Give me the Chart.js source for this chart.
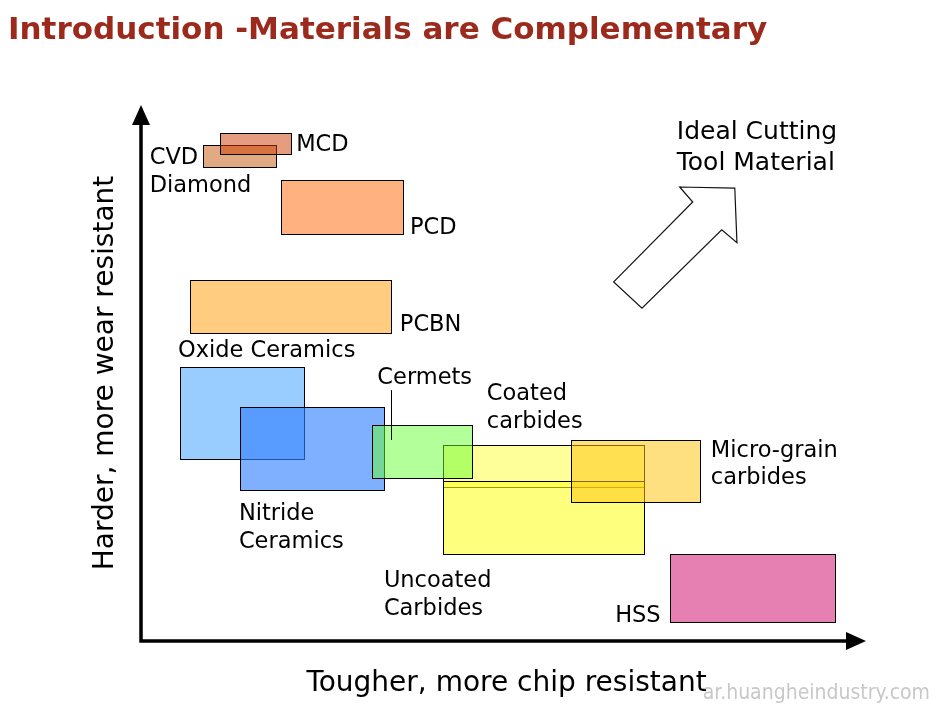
<!DOCTYPE html>
<html>
<head>
<meta charset="utf-8">
<script src="https://cdn.jsdelivr.net/npm/chart.js@4"></script>
<style>
  html, body { margin: 0; padding: 0; background: #fff; }
  #wrap { width: 939px; height: 715px; position: relative; }
</style>
</head>
<body>
<div id="wrap"><canvas id="myChart" width="939" height="715"></canvas></div>
<script>
// materials, toughness range (x) and hardness range (y), both on a 0-100 scale
var materials = ["CVD Diamond", "MCD", "PCD", "PCBN", "Oxide Ceramics", "Nitride Ceramics",
                 "Coated carbides", "Uncoated Carbides", "Cermets", "Micro-grain carbides", "HSS"];
var toughFrom = [8.6, 10.9, 19.3, 6.8, 5.4, 13.7, 41.7, 41.7, 31.9, 59.3, 73.0];
var toughTo   = [18.6, 20.7, 36.1, 34.5, 22.5, 33.5, 69.4, 69.4, 45.7, 77.1, 95.7];
var hardFrom  = [88.4, 90.9, 75.9, 57.5, 34.0, 28.2, 28.7, 16.2, 30.4, 25.9, 3.5];
var hardTo    = [92.5, 94.8, 86.0, 67.4, 51.1, 43.7, 36.6, 29.9, 40.3, 37.5, 16.2];

// fill of each box (same order as materials)
var boxColors = [
    'rgb(226,170,130)',
    'rgba(205,60,0,0.5)',
    'rgb(255,178,128)',
    'rgb(255,204,128)',
    'rgb(153,204,255)',
    'rgba(53,129,255,0.63)',
    'rgb(255,255,153)',
    'rgba(255,255,40,0.6)',
    'rgba(103,255,51,0.5)',
    'rgba(255,196,15,0.53)',
    'rgb(230,128,178)'
];

// label text lines and where they sit (left x, middle y in chart units)
var labelLines = [
    ["CVD", 1.2, 90.5], ["Diamond", 1.2, 85.3],
    ["MCD", 21.4, 92.9],
    ["PCD", 37.1, 77.4],
    ["PCBN", 35.7, 59.3],
    ["Oxide Ceramics", 5.1, 54.5],
    ["Cermets", 32.6, 49.4],
    ["Coated", 47.7, 46.5], ["carbides", 47.7, 41.2],
    ["Micro-grain", 78.6, 35.8], ["carbides", 78.6, 30.8],
    ["Nitride", 13.5, 24.1], ["Ceramics", 13.5, 18.8],
    ["Uncoated", 33.5, 11.6], ["Carbides", 33.5, 6.3],
    ["HSS", 65.4, 5.0]
];
var idealLines = [["Ideal Cutting", 73.9, 95.2], ["Tool Material", 73.9, 89.4]];
var cermetLeader = [34.5, 46.8, 37.5];
var arrowShape = [[65.2, 67.0], [76.1, 81.9], [74.3, 84.7], [81.9, 84.5], [82.2, 74.3], [80.1, 76.7], [69.1, 62.1]];

var titleText = "Introduction -Materials are Complementary";
var xTitle = "Tougher, more chip resistant";
var yTitle = "Harder, more wear resistant";
var watermark = "ar.huangheindustry.com";

var diagramPlugin = {
    id: 'diagram',
    beforeDatasetsDraw: function(chart) {
        var ctx = chart.ctx;
        var sx = chart.scales.x, sy = chart.scales.y;
        var area = chart.chartArea;
        ctx.save();

        // boxes
        for (var i = 0; i < materials.length; i++) {
            var x1 = Math.round(sx.getPixelForValue(toughFrom[i])) + 0.5;
            var x2 = Math.round(sx.getPixelForValue(toughTo[i])) + 0.5;
            var y1 = Math.round(sy.getPixelForValue(hardTo[i])) + 0.5;
            var y2 = Math.round(sy.getPixelForValue(hardFrom[i])) + 0.5;
            ctx.fillStyle = boxColors[i];
            ctx.fillRect(x1, y1, x2 - x1, y2 - y1);
            ctx.strokeStyle = '#000';
            ctx.lineWidth = 1;
            ctx.strokeRect(x1, y1, x2 - x1, y2 - y1);
        }

        // cermets leader
        var lx = Math.round(sx.getPixelForValue(cermetLeader[0])) + 0.5;
        ctx.beginPath();
        ctx.moveTo(lx, sy.getPixelForValue(cermetLeader[1]));
        ctx.lineTo(lx, sy.getPixelForValue(cermetLeader[2]));
        ctx.stroke();

        // labels (+2 so the caps sit centred on the anchor)
        ctx.fillStyle = '#000';
        ctx.textBaseline = 'middle';
        ctx.textAlign = 'left';
        ctx.font = '22.5px "DejaVu Sans"';
        labelLines.forEach(function(l) {
            ctx.fillText(l[0], sx.getPixelForValue(l[1]), sy.getPixelForValue(l[2]) + 2);
        });
        ctx.font = '25px "DejaVu Sans"';
        idealLines.forEach(function(l) {
            ctx.fillText(l[0], sx.getPixelForValue(l[1]), sy.getPixelForValue(l[2]) + 2);
        });

        // big arrow
        ctx.beginPath();
        arrowShape.forEach(function(p, k) {
            var px = sx.getPixelForValue(p[0]), py = sy.getPixelForValue(p[1]);
            if (k == 0) ctx.moveTo(px, py); else ctx.lineTo(px, py);
        });
        ctx.closePath();
        ctx.fillStyle = '#fff';
        ctx.fill();
        ctx.strokeStyle = '#111';
        ctx.lineWidth = 1.2;
        ctx.stroke();

        // axes with arrow heads
        ctx.strokeStyle = '#000';
        ctx.fillStyle = '#000';
        ctx.lineWidth = 3.5;
        ctx.beginPath();
        ctx.moveTo(area.left, area.top + 15);
        ctx.lineTo(area.left, area.bottom);
        ctx.lineTo(area.right - 15, area.bottom);
        ctx.stroke();
        ctx.beginPath();
        ctx.moveTo(area.left, area.top);
        ctx.lineTo(area.left - 9, area.top + 20);
        ctx.lineTo(area.left + 9, area.top + 20);
        ctx.closePath();
        ctx.fill();
        ctx.beginPath();
        ctx.moveTo(area.right, area.bottom);
        ctx.lineTo(area.right - 20, area.bottom - 9);
        ctx.lineTo(area.right - 20, area.bottom + 9);
        ctx.closePath();
        ctx.fill();

        // axis titles
        ctx.textAlign = 'center';
        ctx.font = '28px "DejaVu Sans"';
        ctx.fillText(xTitle, (area.left + area.right) / 2 + 3, area.bottom + 43);
        ctx.save();
        ctx.translate(area.left - 35, (area.top + area.bottom) / 2);
        ctx.rotate(-Math.PI / 2);
        ctx.fillText(yTitle, 0, 0);
        ctx.restore();

        // slide title
        ctx.textAlign = 'left';
        ctx.fillStyle = '#9c2a1c';
        ctx.font = 'bold 31px "DejaVu Sans"';
        ctx.fillText(titleText, 8, 31);

        // watermark
        ctx.textAlign = 'right';
        ctx.fillStyle = '#c8c8c8';
        ctx.font = '21px "DejaVu Sans Condensed"';
        ctx.fillText(watermark, 930, 694);

        ctx.restore();
    }
};

var config = {
    type: 'scatter',
    data: { datasets: [{ data: [] }] },
    options: {
        responsive: false,
        animation: false,
        layout: { padding: { left: 141, right: 73, top: 105, bottom: 74 } },
        plugins: { legend: { display: false }, tooltip: { enabled: false }, title: { display: false } },
        scales: {
            x: { type: 'linear', min: 0, max: 100, display: false },
            y: { type: 'linear', min: 0, max: 100, display: false }
        }
    },
    plugins: [diagramPlugin]
};
var myChart = new Chart(document.getElementById('myChart'), config);
</script>
</body>
</html>
